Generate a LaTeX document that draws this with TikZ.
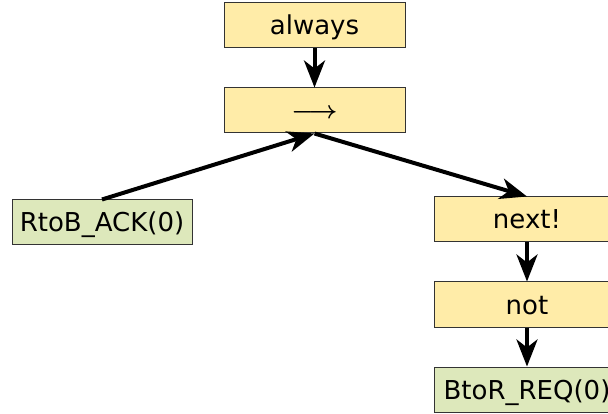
\documentclass[tikz,border=0pt]{standalone}
\usepackage{fontspec}
\setmainfont{DejaVu Sans}
\usetikzlibrary{arrows.meta}
\definecolor{ybox}{HTML}{FFECA8}
\definecolor{gbox}{HTML}{DDE8BB}
\definecolor{bline}{HTML}{333333}
\begin{document}
\begin{tikzpicture}[x=1pt,y=1pt,
  box/.style={draw=bline,line width=1pt,minimum height=45pt,inner sep=0pt,text height=19pt,text depth=0pt,font=\fontsize{26}{30}\selectfont},
  opbox/.style={box,fill=ybox},
  leafbox/.style={box,fill=gbox},
  conn/.style={line width=4pt,-{Stealth[length=27pt,width=21pt,inset=8pt]}}]
\useasboundingbox (0,0) rectangle (608,-414);
\begin{scope}
\clip (0,0) rectangle (608,-414);
\node[opbox,minimum width=181pt] (always) at (314.5,-25.5) {always};
\node[opbox,minimum width=181pt,text height=17pt,font=\fontsize{23}{28}\selectfont\boldmath] (arr) at (314.5,-110.5) {$\longrightarrow$};
\node[leafbox,minimum width=180pt] (rtob) at (102,-222.5) {RtoB\_ACK(0)};
\node[opbox,minimum width=185pt] (next) at (527,-219.5) {next!};
\node[opbox,minimum width=185pt] (not) at (527,-304.5) {not};
\node[leafbox,minimum width=185pt] (btor) at (527,-389.5) {BtoR\_REQ(0)};
\draw[conn] (always.south) -- (arr.south |- arr.north);
\draw[conn] (rtob.north) -- (arr.south);
\draw[conn] (arr.south) -- (next.north);
\draw[conn] (next.south) -- (not.north);
\draw[conn] (not.south) -- (btor.north);
\end{scope}
\end{tikzpicture}
\end{document}
